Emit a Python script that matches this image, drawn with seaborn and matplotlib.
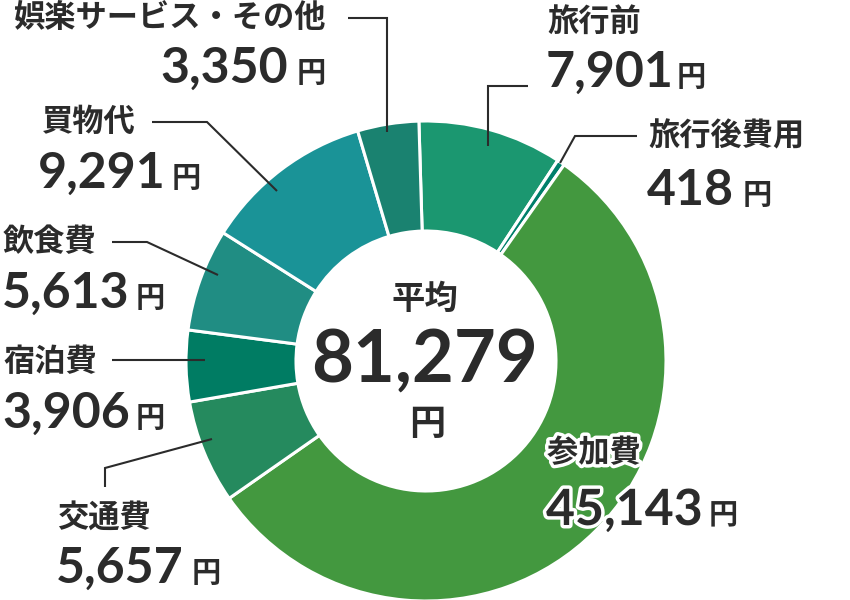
import matplotlib
matplotlib.use("Agg")
import matplotlib.pyplot as plt
import matplotlib.patheffects as pe
import seaborn as sns

# data, clockwise from the top
names = ["旅行前", "旅行後費用", "参加費", "交通費", "宿泊費", "飲食費", "買物代", "娯楽サービス・その他"]
amounts = [7901, 418, 45143, 5657, 3906, 5613, 9291, 3350]
colors = ["#1b9770", "#007f6a", "#43983f", "#258a5e", "#007c63", "#208d83", "#1a9397", "#1a8270"]
total_label = "81,279"

sns.set_theme(style="white")
plt.rcParams["font.family"] = ["Noto Sans CJK JP", "DejaVu Sans"]

INK = "#2b2b2b"
JP = ["Noto Sans CJK JP", "DejaVu Sans"]
NUM = ["Lato", "Noto Sans CJK JP"]

fig = plt.figure(figsize=(8.5, 6), dpi=100)
ax = fig.add_axes([0, 0, 1, 1])


def Y(y):
    # pixel row (from top) -> data y
    return 600 - y


ax.pie(amounts, colors=colors, center=(426, Y(361)), radius=240,
       startangle=91.7, counterclock=False, frame=True,
       wedgeprops=dict(width=110, edgecolor="white", linewidth=2.2))
ax.set_xlim(0, 850)
ax.set_ylim(0, 600)
ax.set_aspect("equal")
ax.axis("off")

# centre
ax.text(425, Y(299), "平均", family=JP, weight="bold", fontsize=24, color=INK,
        ha="center", va="center")
ax.text(425, Y(382), total_label, family=NUM, weight="bold", fontsize=52, color=INK,
        ha="center", va="baseline")
ax.text(427, Y(425), "円", family=JP, weight="bold", fontsize=26, color=INK,
        ha="center", va="center")

# label blocks: name position, number position (left, baseline), 円 position
labels = [
    # idx, name_x, name_y, name_ha, num_x, num_base, yen_x
    (0, 547, 22, "left", 546, 87, 677),
    (1, 648, 136, "left", 647, 205, 743),
    (2, 547, 453, "left", 546, 525, 709),
    (3, 57, 518, "left", 56, 583, 192),
    (4, 3, 362, "left", 2, 428, 136),
    (5, 3, 242, "left", 2, 308, 136),
    (6, 42, 122, "left", 38, 188, 172),
    (7, 326, 18, "right", 160, 83, 297),
]

for i, nx, ny, nha, vx, vb, yx in labels:
    fx = []
    if i == 2:
        fx = [pe.withStroke(linewidth=5, foreground="white")]
    ax.text(nx, Y(ny), names[i], family=JP, weight="bold", fontsize=22.5, color=INK,
            ha=nha, va="center", path_effects=fx)
    ax.text(vx, Y(vb), f"{amounts[i]:,}", family=NUM, weight="bold", fontsize=36,
            color=INK, ha="left", va="baseline", path_effects=fx)
    ax.text(yx, Y(vb) + 1, "円", family=JP, weight="bold", fontsize=21, color=INK,
            ha="left", va="baseline", path_effects=fx)

# leader lines (pixel rows from top)
leaders = [
    [(528, 86), (488, 86), (488, 146)],
    [(637, 136), (575, 136), (560, 163)],
    [(105, 487), (105, 468), (212, 439)],
    [(112, 360), (205, 360)],
    [(112, 242), (147, 242), (218, 275)],
    [(152, 122), (207, 122), (277, 191)],
    [(348, 18), (387, 18), (387, 132)],
]
for pts in leaders:
    ax.plot([p[0] for p in pts], [Y(p[1]) for p in pts], color=INK, lw=1.5,
            solid_capstyle="butt", solid_joinstyle="miter")

fig.savefig("out.png", dpi=100, facecolor="white")
